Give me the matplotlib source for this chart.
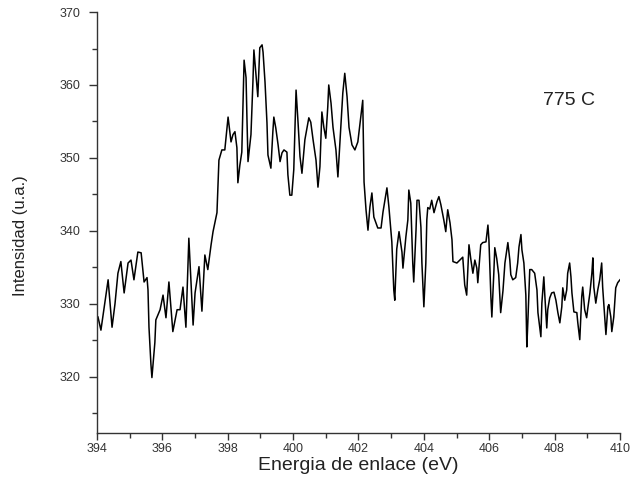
import matplotlib
matplotlib.use("Agg")
import matplotlib.pyplot as plt
from matplotlib.ticker import MultipleLocator

plt.rcParams['font.family'] = ['Liberation Sans', 'DejaVu Sans']

# N 1s region, sample annealed at 775 C
energy = [
    394.03, 394.12, 394.34, 394.46, 394.55, 394.64, 394.73, 394.83, 394.95, 395.04,
    395.13, 395.25, 395.35, 395.44, 395.53, 395.56, 395.59, 395.65, 395.68, 395.77,
    395.80, 395.93, 396.02, 396.11, 396.20, 396.32, 396.45, 396.54, 396.63, 396.72,
    396.81, 396.94, 397.00, 397.12, 397.21, 397.30, 397.39, 397.49, 397.55, 397.67,
    397.70, 397.73, 397.82, 397.91, 398.01, 398.10, 398.16, 398.22, 398.28, 398.31,
    398.37, 398.43, 398.50, 398.56, 398.59, 398.62, 398.71, 398.77, 398.80, 398.89,
    398.92, 398.98, 399.05, 399.08, 399.14, 399.20, 399.23, 399.32, 399.38, 399.41,
    399.47, 399.54, 399.60, 399.66, 399.72, 399.81, 399.84, 399.90, 399.96, 400.02,
    400.09, 400.15, 400.21, 400.27, 400.36, 400.48, 400.54, 400.61, 400.70, 400.76,
    400.82, 400.88, 400.94, 401.00, 401.06, 401.09, 401.16, 401.22, 401.31, 401.37,
    401.46, 401.52, 401.58, 401.65, 401.71, 401.80, 401.89, 401.98, 402.07, 402.13,
    402.17, 402.23, 402.29, 402.35, 402.41, 402.47, 402.59, 402.69, 402.75, 402.87,
    402.93, 403.02, 403.08, 403.11, 403.17, 403.24, 403.33, 403.36, 403.45, 403.51,
    403.54, 403.60, 403.66, 403.69, 403.76, 403.79, 403.85, 403.91, 403.94, 404.00,
    404.06, 404.09, 404.12, 404.18, 404.24, 404.31, 404.40, 404.46, 404.52, 404.61,
    404.67, 404.73, 404.80, 404.86, 404.89, 405.01, 405.10, 405.19, 405.25, 405.31,
    405.38, 405.44, 405.50, 405.56, 405.62, 405.65, 405.74, 405.80, 405.90, 405.96,
    405.99, 406.05, 406.08, 406.14, 406.17, 406.23, 406.29, 406.35, 406.42, 406.48,
    406.57, 406.63, 406.66, 406.72, 406.81, 406.87, 406.91, 406.97, 407.00, 407.06,
    407.12, 407.15, 407.18, 407.24, 407.30, 407.39, 407.46, 407.49, 407.58, 407.61,
    407.67, 407.70, 407.76, 407.79, 407.85, 407.91, 407.98, 408.04, 408.10, 408.16,
    408.22, 408.25, 408.31, 408.37, 408.40, 408.46, 408.50, 408.53, 408.59, 408.68,
    408.71, 408.77, 408.83, 408.86, 408.92, 408.98, 409.01, 409.08, 409.14, 409.17,
    409.20, 409.26, 409.32, 409.38, 409.44, 409.47, 409.54, 409.57, 409.63, 409.66,
    409.72, 409.75, 409.81, 409.87, 409.93, 410.00,
]

intensity = [
    328.2, 326.4, 333.3, 326.8, 330.0, 334.2, 335.8, 331.5, 335.6, 336.0,
    333.3, 337.1, 337.0, 333.0, 333.6, 331.9, 326.8, 321.7, 319.9, 324.7,
    327.8, 329.2, 331.2, 328.1, 333.0, 326.2, 329.2, 329.2, 332.3, 326.8,
    339.0, 327.1, 331.5, 335.1, 329.0, 336.7, 334.7, 338.1, 339.9, 342.5,
    346.3, 349.7, 351.1, 351.1, 355.6, 352.2, 353.2, 353.6, 351.4, 346.6,
    349.0, 350.8, 363.4, 361.0, 354.9, 349.5, 353.2, 360.4, 364.8, 360.0,
    358.4, 365.1, 365.5, 364.5, 360.4, 354.8, 350.4, 348.6, 353.6, 355.6,
    354.1, 351.8, 349.5, 350.7, 351.1, 350.8, 347.7, 344.9, 344.9, 348.4,
    359.3, 354.9, 350.2, 347.9, 352.5, 355.5, 354.9, 352.5, 349.7, 346.0,
    348.8, 356.3, 354.2, 352.7, 357.0, 360.0, 357.5, 354.2, 351.1, 347.4,
    354.2, 358.9, 361.6, 358.4, 354.2, 351.8, 351.1, 352.2, 355.6, 357.9,
    346.7, 342.9, 340.1, 343.3, 345.2, 341.9, 340.4, 340.4, 342.6, 345.9,
    343.3, 338.5, 331.9, 330.5, 337.5, 339.9, 337.1, 334.9, 339.2, 341.5,
    345.6, 343.8, 335.6, 333.0, 340.1, 344.2, 344.2, 340.5, 335.6, 329.6,
    335.6, 341.5, 343.2, 343.0, 344.2, 342.5, 344.0, 344.7, 343.6, 341.5,
    339.9, 342.9, 341.1, 338.8, 335.8, 335.6, 336.0, 336.4, 332.6, 331.2,
    338.1, 336.0, 334.2, 336.0, 334.9, 332.9, 338.1, 338.4, 338.5, 340.8,
    338.8, 331.0, 328.2, 334.2, 337.7, 336.2, 334.0, 328.8, 331.8, 335.6,
    338.4, 336.0, 334.0, 333.3, 333.6, 335.6, 337.8, 339.5, 337.4, 335.6,
    331.2, 324.1, 327.4, 334.7, 334.7, 334.2, 331.9, 328.8, 325.5, 330.1,
    333.7, 331.2, 326.7, 329.2, 330.8, 331.5, 331.6, 330.5, 328.8, 327.4,
    329.6, 332.2, 330.5, 331.9, 334.2, 335.6, 333.7, 331.5, 328.9, 328.8,
    327.4, 325.1, 331.0, 332.3, 329.2, 328.1, 329.2, 331.5, 334.2, 336.3,
    332.3, 330.1, 331.9, 333.3, 335.6, 332.3, 327.8, 325.8, 329.6, 329.9,
    328.2, 326.2, 328.2, 332.2, 332.9, 333.3,
]

x_ticks = [394, 396, 398, 400, 402, 404, 406, 408, 410]
y_ticks = [320, 330, 340, 350, 360, 370]
sample_label = "775 C"

fig = plt.figure(figsize=(6.42, 5.01), dpi=100)
ax = fig.add_axes([0.1511, 0.1357, 0.8146, 0.8403])

ax.plot(energy, intensity, color='black', linewidth=1.1)

ax.set_xlim(394, 410)
ax.set_ylim(312.3, 370)
ax.set_xticks(x_ticks)
ax.set_yticks(y_ticks)
ax.xaxis.set_minor_locator(MultipleLocator(1))
ax.yaxis.set_minor_locator(MultipleLocator(5))

for side in ('top', 'right'):
    ax.spines[side].set_visible(False)
for side in ('left', 'bottom'):
    ax.spines[side].set_color('#333333')
    ax.spines[side].set_linewidth(1.0)

ax.tick_params(which='major', direction='out', length=6, width=1.0,
               color='#333333', labelsize=9, labelcolor='#333333')
ax.tick_params(which='minor', direction='out', length=3.5, width=1.0,
               color='#333333')
ax.tick_params(axis='y', which='major', pad=6)
ax.tick_params(axis='x', which='major', length=5, pad=2)

ax.set_xlabel('Energia de enlace (eV)', fontsize=14, color='#222222')
ax.set_ylabel('Intensidad (u.a.)', fontsize=12, color='#222222')
ax.xaxis.set_label_coords(0.5, -0.056)
ax.xaxis.label.set_verticalalignment('top')
ax.yaxis.set_label_coords(-0.147, 0.468)
ax.yaxis.label.set_verticalalignment('center')

ax.text(408.45, 357.9, sample_label, fontsize=14, color='#222222',
        ha='center', va='center')

fig.savefig('out.png', dpi=100)
